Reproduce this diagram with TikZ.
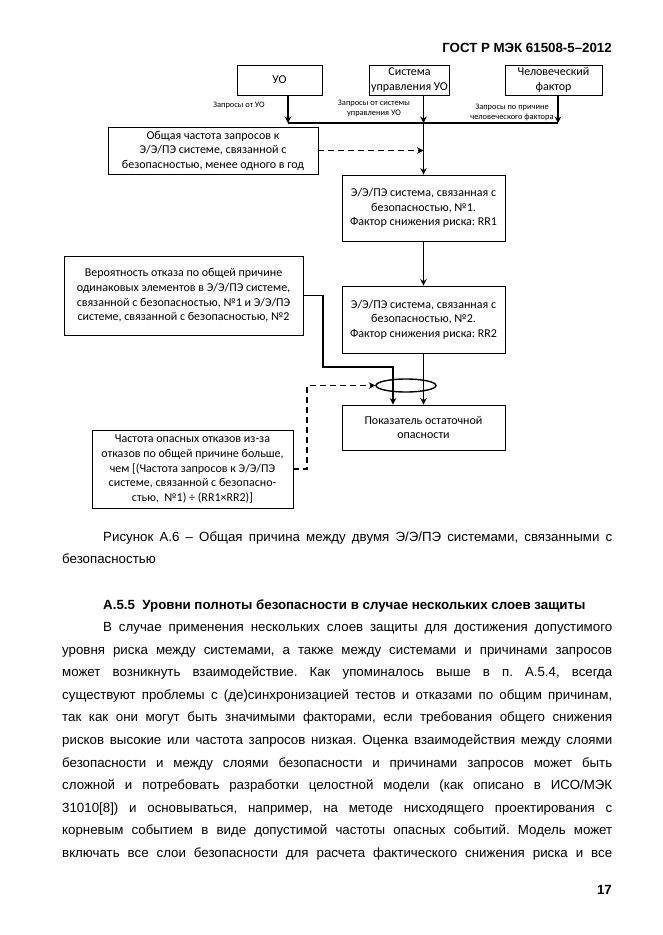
\documentclass[tikz,border=0pt]{standalone}
\usepackage{fontspec}
\setmainfont{Liberation Sans}
\newfontfamily\calfnt{Carlito}
\usetikzlibrary{arrows.meta,shapes.geometric}
\frenchspacing
\newcommand\boxfont{\calfnt\fontsize{12}{14.6}\selectfont}
\newcommand\lblfont{\calfnt\fontsize{8.4}{9.5}\selectfont}
\newcommand\bodyfont{\fontsize{13.3}{16}\selectfont}
\newcommand\jl[2]{\makebox[#1pt][s]{#2}}
\tikzset{
  box/.style={draw, line width=0.9pt, inner sep=2pt, align=center, font=\boxfont},
  arr/.style={line width=1.8pt, -{Stealth[length=6.5pt,width=6.5pt]}},
  dsh/.style={line width=1.8pt, dash pattern=on 6pt off 4pt, -{Stealth[length=6.5pt,width=6.5pt]}},
  lbl/.style={font=\lblfont, align=center, inner sep=0pt},
  body/.style={anchor=base west, inner sep=0pt, font=\bodyfont},
}
\begin{document}
\begin{tikzpicture}[x=1pt,y=-1pt]
\useasboundingbox[fill=white] (0,0) rectangle (662,935);
% header
\node[anchor=base east, inner sep=0pt, font=\bfseries\fontsize{13.3}{16}\selectfont] (hdr) at (612,52) {ГОСТ Р МЭК 61508-5–2012};
% top boxes
\node[box, minimum width=85pt, minimum height=30pt] (uo) at (279.5,80) {УО};
\node[box, minimum width=75pt, minimum height=30pt] (sys) at (409.5,80) {Система\\управления УО};
\node[box, minimum width=97pt, minimum height=30pt] (hum) at (553.5,80) {Человеческий\\фактор};
\coordinate (j1) at (288,123);
\coordinate (j2) at (423.5,123);
\coordinate (j3) at (558,123);
\draw[arr] (uo.south -| j1) -- (j1);
\draw[arr] (sys.south -| j2) -- (j2);
\draw[arr] (hum.south -| j3) -- (j3);
\draw[line width=1.8pt] (j1) -- (j3);
\node[lbl] (l1) at (239,105) {Запросы от УО};
\node[lbl] (l2) at (374,108.5) {Запросы от системы\\управления УО};
\node[lbl] (l3) at (512,112.5) {Запросы по причине\\человеческого фактора};
% main chain
\node[box, minimum width=210pt, minimum height=47pt] (tot) at (213,150.5) {Общая частота запросов к\\Э/Э/ПЭ системе, связанной с\\безопасностью, менее одного в год};
\node[box, minimum width=163pt, minimum height=66pt] (s1) at (423.5,208) {Э/Э/ПЭ система, связанная с\\безопасностью, №1.\\Фактор снижения риска: RR1};
\node[box, minimum width=163pt, minimum height=67pt] (s2) at (423.5,319.5) {Э/Э/ПЭ система, связанная с\\безопасностью, №2.\\Фактор снижения риска: RR2};
\node[box, minimum width=239pt, minimum height=79pt] (ccf) at (183.5,295.5) {Вероятность отказа по общей причине\\одинаковых элементов в Э/Э/ПЭ системе,\\связанной с безопасностью, №1 и Э/Э/ПЭ\\системе, связанной с безопасностью, №2};
\node[box, minimum width=163pt, minimum height=45pt] (res) at (423.5,427.5) {Показатель остаточной\\опасности};
\node[box, minimum width=201pt, minimum height=78pt] (frq) at (192.5,469) {Частота опасных отказов из-за\\отказов по общей причине больше,\\чем [(Частота запросов к Э/Э/ПЭ\\системе, связанной с безопасно-\\стью,~ №1) ÷ (RR1×RR2)]};
\node[draw, ellipse, line width=1.4pt, minimum width=60pt, minimum height=13pt, inner sep=0pt] (ell) at (406,385.5) {};
\draw[arr] (j2) -- (s1.north);
\draw[dsh] (tot.east) -- (tot.east -| s1.north);
\draw[arr] (s1.south) -- (s2.north);
\draw[arr] (s2.south) -- (res.north);
\coordinate (c1) at (323,367);
\coordinate (c2) at (393,367);
\draw[arr] (ccf.east) -| (c1) -- (c2) -- (res.north -| c2);
\coordinate (d1) at (307,385.5);
\draw[dsh] (frq.east) -- (frq.east -| d1) -- (d1) -- (ell.west);
% caption and body
\node[body] (cap1) at (103,541) {\jl{509}{Рисунок А.6 – Общая причина между двумя Э/Э/ПЭ системами, связанными с}};
\node[body] (cap2) at (62,563.6) {безопасностью};
\node[body, font=\bfseries\fontsize{13.3}{16}\selectfont] (hd) at (103,609) {А.5.5\ \ Уровни полноты безопасности в случае нескольких слоев защиты};
\node[body] (p1) at (103,631.5) {\jl{509}{В случае применения нескольких слоев защиты для достижения допустимого}};
\node[body] (p2) at (62,654.1) {\jl{550}{уровня риска между системами, а также между системами и причинами запросов}};
\node[body] (p3) at (62,676.7) {\jl{550}{может возникнуть взаимодействие. Как упоминалось выше в п. А.5.4, всегда}};
\node[body] (p4) at (62,699.3) {\jl{550}{существуют проблемы с (де)синхронизацией тестов и отказами по общим причинам,}};
\node[body] (p5) at (62,721.9) {\jl{550}{так как они могут быть значимыми факторами, если требования общего снижения}};
\node[body] (p6) at (62,744.5) {\jl{550}{рисков высокие или частота запросов низкая. Оценка взаимодействия между слоями}};
\node[body] (p7) at (62,767.1) {\jl{550}{безопасности и между слоями безопасности и причинами запросов может быть}};
\node[body] (p8) at (62,789.7) {\jl{550}{сложной и потребовать разработки целостной модели (как описано в ИСО/МЭК}};
\node[body] (p9) at (62,812.3) {\jl{550}{31010[8]) и основываться, например, на методе нисходящего проектирования с}};
\node[body] (p10) at (62,834.9) {\jl{550}{корневым событием в виде допустимой частоты опасных событий. Модель может}};
\node[body] (p11) at (62,857.5) {\jl{550}{включать все слои безопасности для расчета фактического снижения риска и все}};
\node[anchor=base east, inner sep=0pt, font=\bfseries\fontsize{13.3}{16}\selectfont] (pg) at (612,894) {17};
\end{tikzpicture}
\end{document}
